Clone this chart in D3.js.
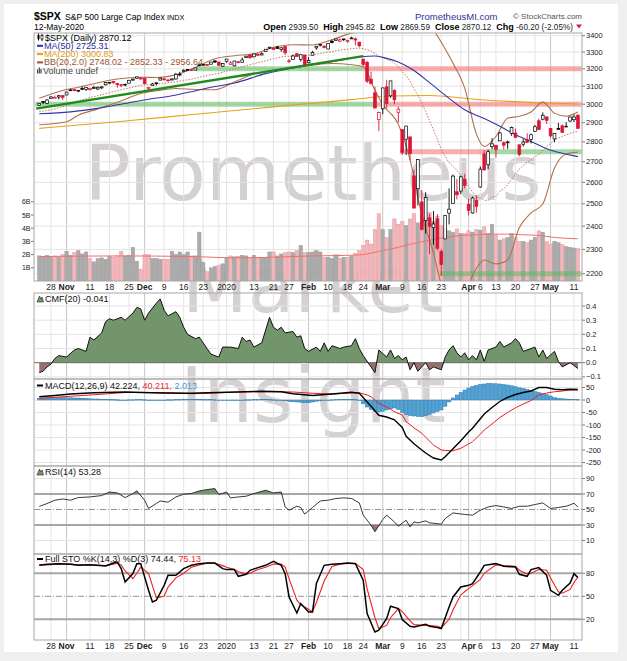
<!DOCTYPE html>
<html>
<head>
<meta charset="utf-8">
<script src="https://cdn.jsdelivr.net/npm/d3@7"></script>
<style>
  body { margin: 0; background: #efefef; }
  svg text { font-family: "Liberation Sans", Arial, sans-serif; }
  .pre { white-space: pre; }
</style>
</head>
<body>
<svg id="chart" width="627" height="661"></svg>
<script>
// $SPX daily bars, 23-Oct-2019 .. 12-May-2020 (bar index 0..138)
const opens = [
  2994.01,3014.78,3003.32,3032.12,3035.39,3039.74,3046.90,3050.72,3078.96,3080.80,
  3075.10,3087.02,3081.25,3080.33,3089.28,3084.18,3090.75,3107.92,3117.91,3127.45,
  3114.66,3108.49,3111.41,3117.44,3134.85,3145.49,3147.18,3143.85,3087.41,3103.50,
  3119.21,3134.62,3141.86,3135.36,3135.75,3141.23,3166.65,3183.63,3195.40,3195.21,
  3192.32,3223.33,3226.05,3225.45,3227.20,3247.23,3240.09,3215.18,3244.67,3226.36,
  3217.55,3241.86,3238.59,3266.03,3281.81,3271.13,3285.35,3282.27,3302.97,3323.66,
  3321.03,3330.02,3315.77,3333.10,3247.16,3255.35,3289.46,3256.45,3282.33,3235.66,
  3280.61,3324.91,3344.92,3335.54,3318.28,3365.87,3370.50,3365.90,3378.08,3369.04,
  3380.39,3380.45,3360.50,3257.61,3238.94,3139.90,3062.54,2916.90,2974.28,3096.46,
  3045.75,3075.70,2954.20,2863.89,2813.48,2825.60,2630.86,2569.99,2508.59,2425.66,
  2436.50,2393.48,2431.94,2290.71,2344.44,2457.77,2501.29,2555.87,2558.98,2614.69,
  2498.08,2458.54,2514.92,2578.28,2738.65,2685.00,2776.99,2782.46,2805.10,2795.64,
  2799.34,2842.43,2845.62,2784.81,2787.89,2810.42,2812.64,2854.65,2909.96,2918.46,
  2930.91,2869.09,2815.01,2868.88,2883.14,2878.26,2908.83,2915.46,2939.50];
const highs = [
  3004.78,3016.07,3027.39,3044.08,3047.87,3050.10,3046.90,3066.95,3085.20,3083.95,
  3078.34,3097.77,3093.09,3088.33,3102.61,3098.06,3098.20,3120.46,3124.17,3127.64,
  3118.97,3110.11,3112.87,3133.83,3142.69,3154.26,3150.30,3144.31,3094.97,3119.38,
  3119.45,3150.60,3148.87,3142.12,3143.98,3176.28,3182.68,3197.71,3198.22,3198.48,
  3205.48,3225.65,3227.78,3226.43,3240.08,3247.93,3240.92,3231.72,3258.14,3246.15,
  3246.84,3244.91,3267.07,3275.58,3282.99,3288.13,3294.25,3298.66,3317.11,3329.88,
  3329.79,3337.77,3326.88,3333.18,3258.85,3285.78,3293.47,3285.91,3282.33,3268.44,
  3306.92,3337.58,3347.96,3341.42,3352.26,3375.63,3381.47,3385.09,3380.69,3375.01,
  3393.52,3389.15,3360.76,3259.81,3246.99,3182.51,3097.07,2959.72,3090.96,3136.72,
  3130.97,3083.04,2985.93,2863.89,2882.59,2825.60,2660.95,2711.33,2562.98,2553.93,
  2453.57,2466.97,2453.01,2300.73,2449.71,2571.42,2637.01,2615.91,2631.80,2641.39,
  2522.75,2533.22,2538.18,2676.85,2756.89,2760.75,2818.57,2782.46,2851.85,2801.88,
  2806.51,2879.22,2868.98,2785.54,2815.10,2844.90,2842.71,2887.72,2921.15,2954.86,
  2930.91,2869.09,2844.24,2898.23,2891.11,2901.92,2932.16,2944.25,2945.82];
const lows = [
  2991.21,3000.42,3001.94,3032.12,3034.81,3025.96,3023.19,3050.72,3074.87,3072.15,
  3065.89,3080.23,3073.58,3075.82,3084.73,3078.80,3083.26,3104.60,3112.06,3113.47,
  3091.41,3094.55,3099.26,3117.44,3131.00,3143.41,3139.34,3110.78,3070.33,3102.53,
  3103.76,3134.62,3135.46,3126.09,3133.21,3138.47,3156.51,3183.63,3191.03,3191.14,
  3192.32,3216.03,3222.30,3220.51,3227.20,3234.37,3216.57,3212.03,3235.53,3222.34,
  3214.64,3232.43,3236.67,3263.67,3260.86,3268.43,3277.19,3280.69,3302.82,3318.86,
  3316.61,3320.04,3301.87,3281.53,3234.50,3253.22,3271.89,3242.80,3214.68,3235.66,
  3280.61,3313.75,3334.39,3322.12,3317.77,3352.72,3369.72,3360.52,3366.15,3355.61,
  3378.83,3341.02,3328.45,3214.65,3118.77,3108.99,2977.39,2855.84,2945.19,2976.63,
  3034.38,2999.83,2901.54,2734.43,2734.00,2707.22,2478.86,2492.37,2380.94,2367.04,
  2280.52,2319.78,2295.56,2191.86,2344.44,2407.53,2500.72,2520.02,2545.28,2571.15,
  2447.49,2455.79,2459.96,2574.57,2657.67,2663.30,2762.36,2721.17,2805.10,2761.54,
  2764.32,2830.88,2820.43,2727.10,2775.95,2794.26,2791.76,2852.89,2860.71,2912.16,
  2892.47,2821.61,2797.85,2863.55,2847.65,2876.48,2902.88,2903.44,2869.59];
const closes = [
  3004.52,3010.29,3022.55,3039.42,3036.89,3046.77,3037.56,3066.91,3078.27,3074.62,
  3076.78,3085.18,3093.08,3087.01,3091.84,3094.04,3096.63,3120.46,3122.03,3120.18,
  3108.46,3103.54,3110.29,3133.64,3140.52,3153.63,3140.98,3113.87,3093.20,3112.76,
  3117.43,3145.91,3135.96,3132.52,3141.63,3168.57,3168.80,3191.45,3192.52,3191.14,
  3205.37,3221.22,3224.01,3223.38,3239.91,3240.02,3221.29,3230.78,3257.85,3234.85,
  3246.28,3237.18,3253.05,3274.70,3265.35,3288.13,3283.15,3289.29,3316.81,3329.62,
  3320.79,3321.75,3325.54,3295.47,3243.63,3276.24,3273.40,3283.66,3225.52,3248.92,
  3297.59,3334.69,3345.78,3327.71,3352.09,3357.75,3379.45,3373.94,3380.16,3370.29,
  3386.15,3373.23,3337.75,3225.89,3128.21,3116.39,2978.76,2954.22,3090.23,3003.37,
  3130.12,3023.94,2972.37,2746.56,2882.23,2741.38,2480.64,2711.02,2386.13,2529.19,
  2398.10,2409.39,2304.92,2237.40,2447.33,2475.56,2630.07,2541.47,2626.65,2584.59,
  2470.50,2526.90,2488.65,2663.68,2659.41,2749.98,2789.82,2761.63,2846.06,2783.36,
  2799.55,2874.56,2823.16,2736.56,2799.31,2797.80,2836.74,2878.48,2863.39,2939.51,
  2912.43,2830.71,2842.74,2868.44,2848.42,2881.19,2929.80,2930.32,2870.12];
// volume, billions of shares
const volumes = [
  1.9,1.8,1.95,1.8,1.9,1.8,2.0,2.25,1.95,2.15,
  2.3,2.05,2.2,1.7,1.45,1.7,1.75,1.65,1.85,1.8,
  1.9,2.25,1.9,1.95,2.55,1.5,0.9,2.0,2.0,1.7,
  1.7,1.65,1.65,1.65,2.25,2.0,2.2,2.0,2.2,1.9,
  1.9,3.7,1.4,0.7,1.0,1.1,1.2,1.3,1.8,1.9,
  1.8,1.85,1.95,1.9,1.75,1.95,1.8,1.8,1.8,2.2,
  2.2,1.9,2.05,2.15,2.2,2.15,2.3,2.7,2.15,2.15,
  2.2,2.3,2.2,1.8,1.8,1.7,1.85,1.7,1.8,1.8,
  1.9,2.1,2.3,2.7,3.1,2.8,3.9,5.1,3.9,3.3,
  3.9,4.7,4.3,4.5,4.2,4.7,5.1,4.4,4.5,4.8,
  5.2,4.5,4.9,4.2,4.0,3.8,3.7,3.95,3.6,3.6,
  3.8,3.7,3.9,3.85,4.1,3.6,4.3,3.5,3.1,3.2,
  3.3,3.6,3.3,3.0,3.0,2.9,3.1,3.3,3.8,3.7,
  3.0,2.8,3.0,2.9,2.75,2.6,2.55,2.5,2.45];

// overlays (bar index, value)
const volMaDay = [0,20,40,50,60,70,80,84,88,92,96,100,104,108,112,116,120,124,128,132,138];
const volMaValue = [1.85,1.9,1.85,1.75,1.8,1.9,1.95,2.05,2.3,2.55,2.85,3.1,3.3,3.45,3.5,3.55,3.55,3.5,3.45,3.3,3.2];

const ma50Day = [0,8,15,23,28,34,39,44,50,58,67,75,82,86,88,92,96,100,105,109,114,118,122,126,130,134,138];
const ma50Value = [2948,2958,2977,3008,3027,3046,3069,3094,3118,3172,3213,3242,3270,3276,3268,3240,3190,3120,3032,2969,2922,2881,2837,2802,2765,2742,2725.31];

const ma200Day = [0,20,40,60,80,90,100,110,120,130,138];
const ma200Value = [2870,2905,2945,2985,3025,3045,3048,3030,3015,3006,3000.83];

const bbMid = [
  2960.5,2962.1,2965.2,2968.3,2973.1,2981.1,2987.4,2993.2,3000.1,3009.2,
  3017.1,3024.4,3030.6,3036.6,3041.4,3046.7,3051.6,3058.3,3064.1,3070.3,
  3075.5,3080.1,3084.5,3089.2,3094.4,3099.8,3104.9,3107.3,3108.0,3109.9,
  3112.0,3115.0,3117.2,3119.4,3121.9,3125.7,3129.3,3132.8,3136.3,3139.9,
  3144.7,3150.6,3156.3,3160.8,3165.8,3170.1,3174.1,3180.0,3188.2,3194.3,
  3200.7,3205.3,3211.2,3218.3,3224.5,3230.4,3236.2,3241.1,3247.3,3254.2,
  3260.0,3265.0,3270.1,3273.7,3273.9,3275.7,3278.3,3281.0,3279.3,3280.0,
  3282.6,3287.5,3292.1,3294.8,3299.1,3302.6,3307.4,3311.6,3314.8,3316.8,
  3320.1,3322.7,3323.3,3319.8,3314.0,3306.0,3291.3,3274.8,3268.1,3255.8,
  3247.4,3231.9,3213.2,3184.2,3160.7,3129.8,3084.9,3051.8,3002.1,2960.0,
  2910.6,2862.4,2810.8,2761.3,2727.3,2695.2,2677.8,2657.2,2634.0,2613.1,
  2580.1,2555.2,2531.0,2526.9,2515.8,2516.2,2531.7,2534.2,2557.2,2569.9,
  2590.0,2613.3,2639.2,2664.1,2681.7,2697.8,2708.1,2725.0,2736.8,2754.6,
  2776.7,2791.9,2809.6,2819.8,2829.3,2835.8,2842.8,2851.3,2852.33];
const bbDay = [0,7,10,15,20,26,30,35,40,45,50,55,60,65,70,75,80,83,86,88,92,95,98,101,103,106,109,112,114,117,120,123,126,129,132,135,138];
const bbUpper = [3032,3081,3094,3120,3141,3151,3150,3165,3208,3260,3278,3289,3328,3344,3343,3375,3416,3428,3504,3538,3535,3551,3554,3438,3359,3233,3089,2840,2776,2828,2924,2934,2957,3011,2951,2934,2956.64];
const bbLower = [2889,2905,2940,2974,3010,3059,3074,3087,3081,3080,3124,3171,3192,3208,3222,3231,3224,3212,3078,2998,2891,2709,2450,2286,2163,2123,2137,2222,2256,2240,2256,2394,2459,2499,2669,2738,2748.02];

// hand-drawn trend line and support / resistance bands
const trendDay = [-0.8, 83];
const trendPrice = [2976, 3276];
const bandPrice = [3200, 3200, 3000, 3000, 2750, 2750, 2200];
const bandFrom = [40, 83, -1, 86, 92.4, 115.5, 102.7];
const bandTo = [83, 139, 86, 139, 115.5, 139, 139];
const bandKind = ["support", "resist", "support", "resist", "resist", "support", "support"];

// Chaikin money flow (20)
const cmfDay = [0,1,2,3,4,5,7,9,10,12,13,14,16,17,18,19,21,22,24,25,26,27,28,30,31,32,33,35,36,37,
  38,40,41,43,44,46,47,49,51,52,53,54,55,57,58,59,60,61,62,63,65,66,67,68,69,71,72,73,74,75,
  77,78,80,81,82,83,85,86,87,89,90,91,92,93,94,95,96,97,99,100,101,103,104,105,106,107,108,109,110,111,
  112,113,114,115,117,118,119,121,122,123,124,126,127,128,129,130,132,133,134,136,137,138];
const cmfValue = [-0.07,-0.06,-0.03,-0.01,0.03,0.05,0.04,0.09,0.10,0.08,0.18,0.16,0.21,0.29,0.31,0.30,0.32,0.30,0.35,0.39,
  0.38,0.30,0.35,0.42,0.45,0.37,0.33,0.36,0.32,0.25,0.20,0.17,0.18,0.10,0.06,0.04,0.11,0.11,0.10,0.18,
  0.15,0.16,0.11,0.14,0.23,0.32,0.25,0.23,0.25,0.21,0.22,0.18,0.19,0.10,0.08,0.11,0.08,0.14,0.08,0.12,
  0.10,0.11,0.12,0.17,0.10,0.05,-0.03,-0.07,0.09,0.04,0.09,0.03,0.05,0.02,0.04,-0.05,0.00,-0.06,0.00,-0.05,
  -0.03,-0.05,0.04,0.09,0.12,0.07,0.04,0.07,0.02,0.05,0.02,0.09,0.01,0.09,0.11,0.15,0.11,0.14,0.17,0.14,
  0.08,0.10,0.11,0.04,0.09,0.03,0.08,0.01,-0.03,0.00,-0.02,-0.041];

// MACD (12,26,9)
const macdDay = [0,4,8,14,22,31,39,48,57,62,65,70,75,80,82,84,85,87,89,91,93,94,96,98,99,101,103,104,106,108,
  110,111,113,114,116,118,120,122,124,126,128,130,132,134,136,138];
const macdLine = [13,18,24,29,32,28,27,31,35,33,25,18,24,31,27,-8,-25,-61,-68,-79,-110,-145,-175,-200,-212,-232,-240,-227,-195,-163,
  -128,-113,-75,-56,-30,-6,10,22,30,36,50,50,43,41,43,42.22];
const macdSignal = [7,11,15,21,30,30,25,30,33,33,32,27,24,28,29,20,13,-13,-28,-47,-60,-87,-111,-133,-149,-180,-200,-202,-203,-193,
  -176,-167,-137,-120,-96,-70,-50,-31,-16,-2,20,28,33,36,40,40.21];
const macdHist = [
  6,7,8,9,9,10,10,9,9,8, 8,7,6,5,4,4,3,3,2,2, 1,0,0,1,1,2,2,1,-1,-2, -2,-1,0,1,1,2,2,3,3,3,
  3,3,2,2,2,1,0,-1,0,0, -1,-1,0,1,1,2,2,3,3,2, 1,0,-1,-3,-6,-7,-8,-9,-11,-11, -8,-5,-3,-2,0,1,2,3,3,3,
  3,2,-2,-15,-28,-38,-45,-48,-45,-40, -35,-32,-38,-50,-58,-62,-64,-66,-67,-63, -58,-52,-46,-40,-25,-8,8,20,30,40,
  48,54,58,62,64,66,66,65,64,62, 60,57,53,49,46,42,38,34,30,26, 22,16,10,7,5,4,3,3,2];

// RSI (14)
const rsiDay = [0,2,4,6,8,10,13,16,18,20,22,24,25,27,28,30,31,33,35,37,39,41,43,45,46,48,49,51,53,55,
  58,60,62,63,64,66,67,68,70,72,74,76,78,80,82,83,85,86,88,89,91,92,94,95,96,97,99,100,103,104,
  106,107,109,111,113,115,117,119,121,123,125,127,129,131,133,135,136,137,138];
const rsiValue = [54,57.7,62,63.6,62,65.4,66.2,68,72.6,71.4,65.4,70.6,74,62,51.3,57.7,61,59.4,66.2,69.7,
  70.6,74,75.7,77,69.3,72.6,65,66.2,67.1,70.6,74.8,71.4,72.6,53.3,49.1,54.2,52.6,44,52.6,61,
  62,64.2,65,64.2,58.5,42.7,29.8,21.2,37.1,42.7,34,28.5,36.2,27.6,34,32.8,35.3,32.8,31.1,38.4,
  45.6,44.9,43.6,42.7,49.1,53.3,55.1,53.3,51.3,54.2,54.2,56.4,58.5,51.3,52.6,54.2,56,58,53.28];

// Full stochastics %K(14,3) %D(3)
const stoDay = [0,2,5,8,10,13,17,19,20,21,22,24,25,26,28,29,30,32,33,35,37,39,41,43,45,47,48,50,51,53,
  54,56,58,60,62,63,64,66,67,69,70,71,73,75,77,79,81,83,84,86,87,89,90,92,93,95,96,99,100,102,
  103,105,106,108,110,111,113,114,117,119,122,123,125,126,128,130,131,133,134,136,137,138];
const stoK = [90.4,91.7,92.6,91.7,90.4,91.3,89.5,93.4,94.7,86.1,68.6,79.6,92.6,92.6,57.8,42.6,44.8,64.3,77.4,77.4,
  86.1,90.4,92.6,93.4,93.4,86.1,84.8,84.8,76.1,78.7,83.9,87.4,90.4,95.6,90.4,79.6,49.1,28.2,40.5,29.5,
  29.5,66.6,90.4,91.7,92.6,93.4,92.6,70.9,27.4,3.5,5.7,20.9,37,34,19.6,10.9,10,13.5,10.9,9.2,
  7.9,36,49.1,62.1,64.3,66.6,81.7,90.4,92.6,89.1,88.2,78.7,76.1,84.8,87.4,77.4,57.8,51.3,57.8,67.3,79.6,74.44];
const stoD = [91,91,92,92,91,91,90,92,93,91,83,73,80,88,80,64,48,50,62,74,
  80,88,91,93,93,90,88,85,82,79,80,85,88,92,92,88,73,45,39,33,
  30,42,70,89,92,93,93,85,60,22,8,12,22,34,30,18,13,12,12,11,
  9,20,32,52,60,64,72,80,91,90,89,84,79,80,85,84,74,56,54,59,68,75.13];

// date axis
const tickDay = [3,7,13,18,23,27,32,37,42,48,55,60,64,69,74,79,83,88,93,98,103,110,113,117,122,127,131,137];
const tickText = ["28","Nov","11","18","25","Dec","9","16","23","2020","13","21","27","Feb","10","18","24","Mar","9","16","23","Apr","6","13","20","27","May","11"];
const extraGridDay = [46, 108];

const priceTicks = [2200,2300,2400,2500,2600,2700,2800,2900,3000,3100,3200,3300,3400];
const volTicks = [1,2,3,4,5,6];
const cmfTicks = [-0.1,0,0.1,0.2,0.3,0.4];
const macdTicks = [50,0,-50,-100,-150,-200,-250];
const rsiTicks = [90,70,50,30,10];
const stoTicks = [80,50,20];

// ---------------------------------------------------------------
const svg = d3.select("#chart");
const L = 34, R = 582;
const x = d3.scaleLinear().domain([0, 138]).range([39.25, 577.9]);

const panels = [
  {key: "price", top: 33, bottom: 281},
  {key: "cmf", top: 293, bottom: 379},
  {key: "macd", top: 379, bottom: 466},
  {key: "rsi", top: 466, bottom: 554},
  {key: "sto", top: 554, bottom: 640},
];
const P = Object.fromEntries(panels.map(p => [p.key, p]));

const yPrice = d3.scaleLog().domain([2200, 3400]).range([273.7, 35.7]);
const yVol = d3.scaleLinear().domain([0, 1]).range([281, 267.8]);
const yCmf = d3.scaleLinear().domain([0, 0.4]).range([362.7, 306]);
const yMacd = d3.scaleLinear().domain([0, -250]).range([400, 462.5]);
const yRsi = d3.scaleLinear().domain([30, 70]).range([525, 494]);
const ySto = d3.scaleLinear().domain([20, 80]).range([619.3, 573.3]);

svg.append("rect").attr("width", 627).attr("height", 661).attr("fill", "#efefef");
svg.append("rect").attr("x", 4).attr("y", 4).attr("width", 614).attr("height", 648).attr("fill", "#fff");

const defs = svg.append("defs");
function clip(id, y0, y1) {
  defs.append("clipPath").attr("id", id).append("rect")
    .attr("x", L).attr("y", y0).attr("width", R - L).attr("height", y1 - y0);
  return `url(#${id})`;
}
panels.forEach(p => { p.clip = clip("clip-" + p.key, p.top, p.bottom); });

// watermark
const wm = svg.append("g")
  .attr("text-anchor", "middle")
  .attr("fill", "#d5d0d2");
[["Prometheus", 200, 457], ["Market", 311.5, 262], ["Insight", 421.5, 266]].forEach(([t, yy, w]) => {
  wm.append("text").attr("x", 313).attr("y", yy)
    .attr("font-size", 77).style("font-family", "'DejaVu Sans', Verdana, sans-serif")
    .attr("textLength", w).attr("lengthAdjust", "spacingAndGlyphs").text(t);
});

// grids
const isMonth = t => isNaN(+t);
const gridDays = tickDay.map((d, k) => ({d, month: isMonth(tickText[k])}))
  .concat(extraGridDay.map(d => ({d, month: false})));

function hGrid(p, scale, ticks, skip = []) {
  svg.append("g").selectAll("line").data(ticks.filter(t => !skip.includes(t))).join("line")
    .attr("x1", L).attr("x2", R)
    .attr("y1", t => scale(t)).attr("y2", t => scale(t))
    .attr("stroke", "#e4e4e4").attr("stroke-width", 1);
}
panels.forEach(p => {
  svg.append("g").selectAll("line").data(gridDays).join("line")
    .attr("x1", g => x(g.d)).attr("x2", g => x(g.d))
    .attr("y1", p.top).attr("y2", p.bottom)
    .attr("stroke", g => g.month ? "#c6c6c6" : "#e4e4e4").attr("stroke-width", 1);
});
hGrid(P.price, yPrice, priceTicks);
hGrid(P.cmf, yCmf, cmfTicks, [0]);
hGrid(P.macd, yMacd, macdTicks);
hGrid(P.rsi, yRsi, rsiTicks, [70, 50, 30]);
hGrid(P.sto, ySto, stoTicks, [80, 50, 20]);

// right axis labels
function rightAxis(scale, ticks, fmt) {
  const g = svg.append("g");
  g.selectAll("line").data(ticks).join("line")
    .attr("x1", R).attr("x2", R + 3).attr("y1", t => scale(t)).attr("y2", t => scale(t))
    .attr("stroke", "#777");
  g.selectAll("text").data(ticks).join("text")
    .attr("x", R + 4).attr("y", t => scale(t) + 2.6)
    .attr("font-size", 7.5).attr("fill", "#222").text(fmt);
}
rightAxis(yPrice, priceTicks, t => t);
rightAxis(yCmf, cmfTicks, d3.format(".1f"));
rightAxis(yMacd, macdTicks, t => t);
rightAxis(yRsi, rsiTicks, t => t);
rightAxis(ySto, stoTicks, t => t);

// volume axis (left)
const va = svg.append("g");
va.selectAll("line").data(volTicks).join("line")
  .attr("x1", L - 3).attr("x2", L).attr("y1", v => yVol(v)).attr("y2", v => yVol(v)).attr("stroke", "#777");
va.selectAll("text").data(volTicks).join("text")
  .attr("x", L - 3.5).attr("y", v => yVol(v) + 2.6).attr("text-anchor", "end")
  .attr("font-size", 7).attr("fill", "#222").text(v => v + "B");

// date labels
[289.5, 649].forEach(yy => {
  svg.append("g").selectAll("text").data(tickDay).join("text")
    .attr("x", d => x(d)).attr("y", yy).attr("text-anchor", "middle")
    .attr("font-size", 8.5).attr("fill", "#222")
    .attr("font-weight", (d, k) => isMonth(tickText[k]) ? "bold" : "normal")
    .text((d, k) => tickText[k]);
});

const pts = (days, vals) => d3.zip(days, vals);

// ---------------- price panel ----------------
const pg = svg.append("g").attr("clip-path", P.price.clip);
const isDown = i => i > 0 && closes[i] < closes[i - 1];

pg.append("g").selectAll("rect").data(volumes).join("rect")
  .attr("x", (v, i) => x(i) - 1.7).attr("width", 3.4)
  .attr("y", v => yVol(v)).attr("height", v => yVol(0) - yVol(v))
  .attr("fill", (v, i) => isDown(i) ? "#f2b7bb" : "#ababab")
  .attr("stroke", (v, i) => isDown(i) ? "#e59aa0" : "#979797").attr("stroke-width", 0.5);

pg.append("path").datum(pts(volMaDay, volMaValue))
  .attr("d", d3.line().x(d => x(d[0])).y(d => yVol(d[1])).curve(d3.curveMonotoneX))
  .attr("fill", "none").attr("stroke", "#f07070").attr("stroke-width", 1);

pg.append("g").selectAll("line").data(bandPrice).join("line")
  .attr("x1", (b, k) => x(bandFrom[k])).attr("x2", (b, k) => x(bandTo[k]))
  .attr("y1", b => yPrice(b)).attr("y2", b => yPrice(b))
  .attr("stroke", (b, k) => bandKind[k] === "support" ? "#5cb85c" : "#f26b6b")
  .attr("stroke-opacity", 0.55).attr("stroke-width", 5);

const priceLine = d3.line().x(d => x(d[0])).y(d => yPrice(d[1]));
const smoothLine = d3.line().x(d => x(d[0])).y(d => yPrice(d[1])).curve(d3.curveMonotoneX);

pg.append("path").datum(pts(ma200Day, ma200Value)).attr("d", smoothLine)
  .attr("fill", "none").attr("stroke", "#e3a21a").attr("stroke-width", 1.1);
pg.append("path").datum(bbMid.map((v, i) => [i, v])).attr("d", priceLine)
  .attr("fill", "none").attr("stroke", "#c07a55").attr("stroke-width", 1).attr("stroke-dasharray", "1.5,1.5");
pg.append("path").datum(pts(bbDay, bbUpper)).attr("d", smoothLine)
  .attr("fill", "none").attr("stroke", "#b2704a").attr("stroke-width", 1.1);
pg.append("path").datum(pts(bbDay, bbLower)).attr("d", smoothLine)
  .attr("fill", "none").attr("stroke", "#b2704a").attr("stroke-width", 1.1);
pg.append("path").datum(pts(ma50Day, ma50Value)).attr("d", smoothLine)
  .attr("fill", "none").attr("stroke", "#3535a8").attr("stroke-width", 1.1);
pg.append("path").datum(pts(trendDay, trendPrice)).attr("d", priceLine)
  .attr("fill", "none").attr("stroke", "#1d8c1d").attr("stroke-width", 2.3);

const cg = pg.append("g");
cg.selectAll("line").data(closes).join("line")
  .attr("x1", (c, i) => x(i)).attr("x2", (c, i) => x(i))
  .attr("y1", (c, i) => yPrice(highs[i])).attr("y2", (c, i) => yPrice(lows[i]))
  .attr("stroke", (c, i) => isDown(i) ? "#dc1436" : "#000").attr("stroke-width", 0.9);
cg.selectAll("rect").data(closes).join("rect")
  .attr("x", (c, i) => x(i) - 1.4).attr("width", 2.8)
  .attr("y", (c, i) => Math.min(yPrice(opens[i]), yPrice(c)))
  .attr("height", (c, i) => Math.max(0.8, Math.abs(yPrice(opens[i]) - yPrice(c))))
  .attr("fill", (c, i) => c > opens[i] ? "#fff" : (isDown(i) ? "#dc1436" : "#000"))
  .attr("stroke", (c, i) => isDown(i) ? "#dc1436" : "#000").attr("stroke-width", 0.7);

// ---------------- CMF ----------------
const cmfPts = pts(cmfDay, cmfValue);
const cmfZero = yCmf(0);
const cmfPos = clip("cmf-pos", P.cmf.top, cmfZero);
const cmfNeg = clip("cmf-neg", cmfZero, P.cmf.bottom);
const cmfArea = d3.area().x(d => x(d[0])).y0(cmfZero).y1(d => yCmf(d[1]));
svg.append("path").datum(cmfPts).attr("d", cmfArea).attr("fill", "#72956b").attr("clip-path", cmfPos);
svg.append("path").datum(cmfPts).attr("d", cmfArea).attr("fill", "#9a6f70").attr("clip-path", cmfNeg);
svg.append("line").attr("x1", L).attr("x2", R).attr("y1", cmfZero).attr("y2", cmfZero).attr("stroke", "#666");
svg.append("path").datum(cmfPts).attr("d", d3.line().x(d => x(d[0])).y(d => yCmf(d[1])))
  .attr("fill", "none").attr("stroke", "#111").attr("stroke-width", 1).attr("clip-path", P.cmf.clip);

// ---------------- MACD ----------------
const mg = svg.append("g").attr("clip-path", P.macd.clip);
mg.append("g").selectAll("rect").data(macdHist).join("rect")
  .attr("x", (h, i) => x(i) - 1.7).attr("width", 3.4)
  .attr("y", h => Math.min(yMacd(h), yMacd(0)))
  .attr("height", h => Math.max(0.6, Math.abs(yMacd(h) - yMacd(0))))
  .attr("fill", "#4fa3d6").attr("stroke", "#2f78a8").attr("stroke-width", 0.5);
const macdGen = d3.line().x(d => x(d[0])).y(d => yMacd(d[1]));
mg.append("path").datum(pts(macdDay, macdSignal)).attr("d", macdGen)
  .attr("fill", "none").attr("stroke", "#f01e1e").attr("stroke-width", 1);
mg.append("path").datum(pts(macdDay, macdLine)).attr("d", macdGen)
  .attr("fill", "none").attr("stroke", "#000").attr("stroke-width", 1.4);

// ---------------- RSI ----------------
const rsiPts = pts(rsiDay, rsiValue);
const rg = svg.append("g");
[[70, "#a6a6a6", 2, null], [30, "#a6a6a6", 2, null], [50, "#777", 0.8, "6,2,1,2"]].forEach(([v, c, w, dash]) => {
  rg.append("line").attr("x1", L).attr("x2", R).attr("y1", yRsi(v)).attr("y2", yRsi(v))
    .attr("stroke", c).attr("stroke-width", w).attr("stroke-dasharray", dash);
});
const rsiHi = clip("rsi-hi", P.rsi.top, yRsi(70));
const rsiLo = clip("rsi-lo", yRsi(30), P.rsi.bottom);
rg.append("path").datum(rsiPts)
  .attr("d", d3.area().x(d => x(d[0])).y0(yRsi(70)).y1(d => yRsi(d[1])))
  .attr("fill", "#72956b").attr("clip-path", rsiHi);
rg.append("path").datum(rsiPts)
  .attr("d", d3.area().x(d => x(d[0])).y0(yRsi(30)).y1(d => yRsi(d[1])))
  .attr("fill", "#9a6f70").attr("clip-path", rsiLo);
rg.append("path").datum(rsiPts).attr("d", d3.line().x(d => x(d[0])).y(d => yRsi(d[1])))
  .attr("fill", "none").attr("stroke", "#222").attr("stroke-width", 0.9).attr("clip-path", P.rsi.clip);

// ---------------- Stochastics ----------------
const sg = svg.append("g");
[[80, "#a6a6a6", 2, null], [20, "#a6a6a6", 2, null], [50, "#777", 0.8, "6,2,1,2"]].forEach(([v, c, w, dash]) => {
  sg.append("line").attr("x1", L).attr("x2", R).attr("y1", ySto(v)).attr("y2", ySto(v))
    .attr("stroke", c).attr("stroke-width", w).attr("stroke-dasharray", dash);
});
const stoGen = d3.line().x(d => x(d[0])).y(d => ySto(d[1]));
sg.append("path").datum(pts(stoDay, stoD)).attr("d", stoGen)
  .attr("fill", "none").attr("stroke", "#f01e1e").attr("stroke-width", 1.1).attr("clip-path", P.sto.clip);
sg.append("path").datum(pts(stoDay, stoK)).attr("d", stoGen)
  .attr("fill", "none").attr("stroke", "#000").attr("stroke-width", 1.5).attr("clip-path", P.sto.clip);

// panel frames
svg.append("g").selectAll("rect").data(panels).join("rect")
  .attr("x", L).attr("y", p => p.top).attr("width", R - L).attr("height", p => p.bottom - p.top)
  .attr("fill", "none").attr("stroke", "#a8a8a8").attr("stroke-width", 1);

// ---------------- legends ----------------
function legendLine(yy, color) {
  svg.append("line").attr("x1", 37).attr("x2", 43).attr("y1", yy - 3).attr("y2", yy - 3)
    .attr("stroke", color).attr("stroke-width", 2);
}
function mountain(yy, color) {
  svg.append("path").attr("d", `M37,${yy} L39.5,${yy - 6} L41,${yy - 3} L42,${yy - 5} L43.5,${yy} Z`)
    .attr("fill", color).attr("stroke", "#222").attr("stroke-width", 0.6);
}
function legendText(xx, yy, parts) {
  const t = svg.append("text").attr("x", xx).attr("y", yy).attr("font-size", 9).attr("class", "pre");
  parts.forEach(([s, c]) => t.append("tspan").attr("fill", c).text(s));
}
// candle icon
svg.append("line").attr("x1", 38.5).attr("x2", 38.5).attr("y1", 33.5).attr("y2", 40.5).attr("stroke", "#000");
svg.append("rect").attr("x", 37.5).attr("y", 35).attr("width", 2).attr("height", 4).attr("fill", "#000");
svg.append("line").attr("x1", 42).attr("x2", 42).attr("y1", 34).attr("y2", 41).attr("stroke", "#000");
svg.append("rect").attr("x", 41).attr("y", 35.5).attr("width", 2).attr("height", 3.5).attr("fill", "#fff").attr("stroke", "#000").attr("stroke-width", 0.6);
legendText(45, 40.5, [["$SPX (Daily) 2870.12", "#000"]]);
legendLine(48.8, "#2b2ba8");
legendText(44, 48.8, [["MA(50) 2725.31", "#2b2ba8"]]);
legendLine(57.1, "#e3a21a");
legendText(44, 57.1, [["MA(200) 3000.83", "#e09a10"]]);
legendLine(65.4, "#a0522d");
legendText(44, 65.4, [["BB(20,2.0) 2748.02 - 2852.33 - 2956.64", "#a0522d"]]);
[0, 1.7, 3.4].forEach((dx, k) => {
  svg.append("rect").attr("x", 37 + dx).attr("y", 67.5 + [2, 0, 1.5][k]).attr("width", 1.2)
    .attr("height", 6 - [2, 0, 1.5][k]).attr("fill", "#444");
});
legendText(43, 73.7, [["Volume undef", "#444"]]);

mountain(302, "#72956b");
legendText(45, 302, [["CMF(20) -0.041", "#111"]]);
legendLine(388.5, "#000");
legendText(45, 388.5, [["MACD(12,26,9) 42.224, ", "#111"], ["40.211, ", "#f01e1e"], ["2.013", "#3a9ad6"]]);
mountain(475, "#72956b");
legendText(45, 475, [["RSI(14) 53.28", "#111"]]);
legendLine(562, "#000");
legendText(45, 562, [["Full STO %K(14,3) %D(3) 74.44, ", "#111"], ["75.13", "#f01e1e"]]);

// ---------------- header ----------------
svg.append("text").attr("x", 34).attr("y", 20).attr("font-size", 10.5).attr("font-weight", "bold").text("$SPX");
svg.append("text").attr("x", 65).attr("y", 20).attr("font-size", 8.6).text("S&P 500 Large Cap Index");
svg.append("text").attr("x", 167).attr("y", 20).attr("font-size", 7.3).text("INDX");
svg.append("text").attr("x", 34).attr("y", 30).attr("font-size", 8.5).text("12-May-2020");
svg.append("text").attr("x", 415).attr("y", 20).attr("font-size", 9.5).attr("fill", "#2e3192").text("PrometheusMI.com");
svg.append("text").attr("x", 513).attr("y", 19).attr("font-size", 8).attr("fill", "#555").text("\u00a9 StockCharts.com");

const quote = [["Open", "2939.50"], ["High", "2945.82"], ["Low", "2869.59"], ["Close", "2870.12"], ["Chg", "-60.20 (-2.05%)"]];
const qt = svg.append("text").attr("x", 573).attr("y", 30).attr("text-anchor", "end").attr("class", "pre");
quote.forEach(([k, v], n) => {
  qt.append("tspan").attr("font-weight", "bold").attr("font-size", 9).text((n ? "  " : "") + k);
  qt.append("tspan").attr("font-size", 8.2).attr("fill", "#222").text(" " + v);
});
svg.append("path").attr("d", "M576,24.5 L582,24.5 L579,28.5 Z").attr("fill", "#c8283c");
</script>
</body>
</html>
